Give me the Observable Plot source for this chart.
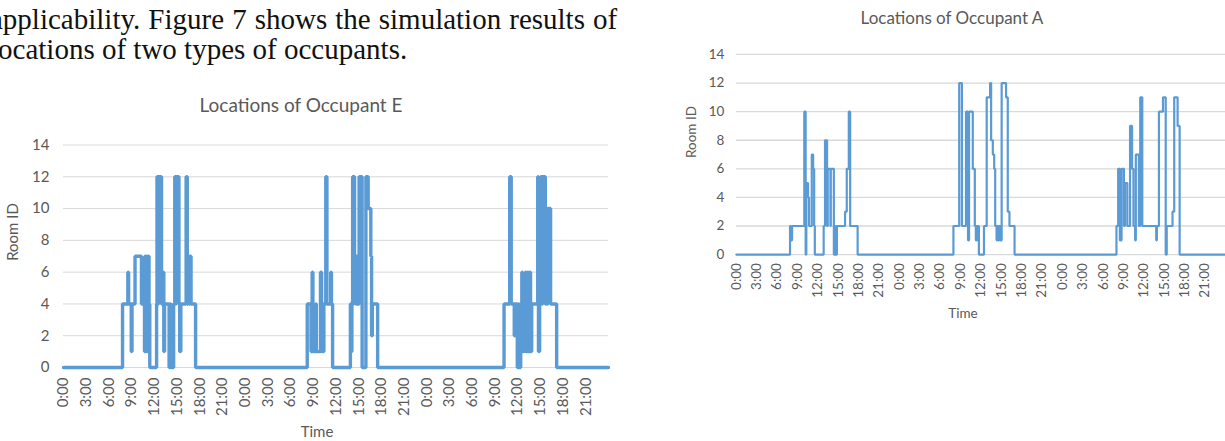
<!DOCTYPE html>
<html>
<head>
<meta charset="utf-8">
<script src="https://cdn.jsdelivr.net/npm/d3@7"></script>
<script src="https://cdn.jsdelivr.net/npm/@observablehq/plot@0.6"></script>
<style>
  html, body { margin: 0; padding: 0; background: #fff; }
  #page { position: relative; width: 1225px; height: 441px; overflow: hidden; background: #fff; }
  .chart { position: absolute; }
  #overlay { position: absolute; left: 0; top: 0; pointer-events: none; }
</style>
</head>
<body>
<div id="page">
  <div id="chartE" class="chart" style="left:0px; top:120px;"></div>
  <div id="chartA" class="chart" style="left:660px; top:30px;"></div>
  <svg id="overlay" width="1225" height="441">
    <g font-family="'Liberation Serif','Times New Roman',serif" font-size="29" fill="#111">
      <text x="-10" y="29" word-spacing="0.8">applicability. Figure 7 shows the simulation results of</text>
      <text x="-10" y="59">locations of two types of occupants.</text>
    </g>
    <g font-family="Lato,'Open Sans',sans-serif" fill="#595959" text-anchor="middle">
      <text x="301" y="112" font-size="19">Locations of Occupant E</text>
      <text transform="translate(18,232) rotate(-90)" font-size="15">Room ID</text>
      <text x="317" y="437" font-size="15">Time</text>
      <text x="952" y="24" font-size="17">Locations of Occupant A</text>
      <text transform="translate(695.5,132) rotate(-90)" font-size="13.5">Room ID</text>
      <text x="963" y="318" font-size="13.5">Time</text>
    </g>
  </svg>
</div>
<script>
// ---- Data (hours since start of day 1, room ID) ----
const eHours = [0,7.8,8.5,8.6,8.95,9.05,9.45,10.3,10.7,10.75,10.85,10.95,11.05,11.1,11.2,11.3,11.4,12.3,12.35,12.5,12.55,12.75,12.85,12.95,13.15,13.25,13.35,13.95,14.1,14.2,14.55,14.7,14.85,14.9,15.25,15.35,15.5,16.2,16.35,16.45,16.6,16.7,16.85,17.45,
  32.2,32.7,32.85,32.95,33.3,33.4,33.95,34.1,34.2,34.4,34.65,34.8,35.3,35.4,35.55,37.9,38.0,38.1,38.2,38.3,38.35,38.45,38.6,38.7,38.8,39.05,39.15,39.25,39.45,39.95,40.25,40.6,40.7,40.8,41.5,
  58.2,58.95,59.15,59.55,59.65,59.95,60.1,60.2,60.4,60.55,60.65,60.8,61.0,61.1,61.3,61.4,61.6,61.7,61.75,61.85,62.65,62.75,62.9,63.05,63.2,63.3,63.45,63.55,63.65,63.75,63.9,64.0,64.35,65.15,72];
const eRooms = [0,4,6,4,1,4,7,4,1,7,1,7,4,1,7,4,0,4,12,4,12,6,12,4,6,1,4,0,4,0,4,12,4,12,4,1,4,12,4,7,4,7,4,0,
  4,1,6,1,4,1,6,4,1,4,12,4,6,4,0,4,1,4,12,4,12,7,4,7,4,12,7,12,0,12,10,7,2,4,0,
  4,12,4,2,4,0,4,0,4,6,1,4,6,1,6,1,6,4,1,4,12,1,4,12,4,12,7,12,4,10,4,10,4,0,0];

const aHours = [0,7.9,8.05,8.2,10.0,10.2,10.3,10.55,10.7,11.1,11.3,11.45,11.55,12.85,13.05,13.35,13.45,13.85,13.9,14.35,14.5,14.6,14.8,16.0,16.25,16.55,16.75,17.85,
  31.95,32.8,33.2,33.8,34.1,34.25,34.8,35.1,35.25,35.35,35.5,35.6,35.7,36.45,36.85,37.35,37.5,37.75,37.95,38.1,38.3,38.4,38.55,38.7,38.85,39.05,39.7,39.95,40.2,40.95,
  55.95,56.2,56.45,56.7,57.05,57.2,57.55,57.95,58.25,58.45,58.7,58.8,59.25,59.45,59.75,61.8,61.9,62.2,62.8,63.2,63.35,64.2,64.45,64.95,65.25,72];
const aRooms = [0,2,1,2,10,0,5,4,2,7,6,2,0,2,8,2,6,2,6,0,2,0,2,3,6,10,2,0,
  2,12,2,10,1,10,6,2,1,2,1,2,0,2,11,12,8,7,6,2,1,2,1,2,1,12,11,3,2,0,
  2,6,1,6,2,5,2,9,6,2,1,7,2,11,2,1,2,10,11,0,2,3,11,9,0,0];

// ---- Axis ticks ----
const tickHours = [0,3,6,9,12,15,18,21,24,27,30,33,36,39,42,45,48,51,54,57,60,63,66,69];
const tickLabels = ["0:00","3:00","6:00","9:00","12:00","15:00","18:00","21:00",
                    "0:00","3:00","6:00","9:00","12:00","15:00","18:00","21:00",
                    "0:00","3:00","6:00","9:00","12:00","15:00","18:00","21:00"];
const yTicks = [0,2,4,6,8,10,12,14];

const labelOf = new Map(tickHours.map((h, i) => [h, tickLabels[i]]));
const eData = eHours.map((h, i) => ({h, room: eRooms[i]}));
const aData = aHours.map((h, i) => ({h, room: aRooms[i]}));

function makeChart(data, o) {
  return Plot.plot({
    width: o.width, height: o.height,
    marginLeft: o.ml, marginRight: o.mr, marginTop: o.mt, marginBottom: o.mb,
    style: {fontFamily: "Lato, 'Open Sans', sans-serif", fontSize: o.fs + "px", color: "#595959", background: "transparent", overflow: "visible"},
    x: {domain: [0, 72], axis: null},
    y: {domain: [0, 14], axis: null},
    marks: [
      Plot.gridY(yTicks, {stroke: o.gridColor, strokeOpacity: 1, strokeWidth: o.gridWidth}),
      Plot.axisY(yTicks, {tickSize: 0, tickPadding: o.yPad, label: null}),
      Plot.axisX(tickHours, {tickSize: 0, tickRotate: -90, tickPadding: o.xPad, label: null, tickFormat: d => labelOf.get(d)}),
      Plot.line(data, {x: "h", y: "room", curve: "step-after", stroke: "#5b9bd5", strokeWidth: o.lw, strokeLinejoin: "miter"})
    ]
  });
}

document.getElementById("chartE").append(makeChart(eData, {
  width: 620, height: 321, ml: 63, mr: 12, mt: 24.5, mb: 74,
  fs: 15, yPad: 14, xPad: 10, lw: 3.4, gridColor: "#d9d9d9", gridWidth: 1
}));
document.getElementById("chartA").append(makeChart(aData, {
  width: 566, height: 300, ml: 76, mr: 0, mt: 24, mb: 75.5,
  fs: 13.5, yPad: 12, xPad: 8.5, lw: 2.2, gridColor: "#d9d9d9", gridWidth: 1.3
}));
</script>
</body>
</html>
